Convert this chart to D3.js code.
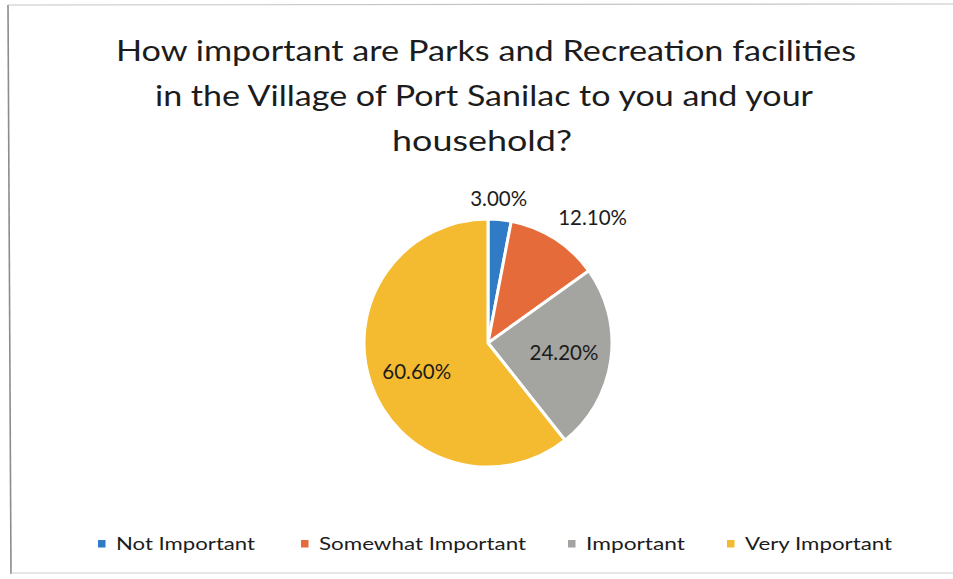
<!DOCTYPE html>
<html>
<head>
<meta charset="utf-8">
<script src="https://cdn.jsdelivr.net/npm/d3@7/dist/d3.min.js"></script>
<style>
  html, body { margin: 0; padding: 0; background: #fff; }
  svg { display: block; }
  text { font-family: Lato, "Open Sans", sans-serif; fill: #1c1c1c; }
</style>
</head>
<body>
<svg id="chart" width="953" height="579"></svg>
<script>
// Survey responses
const categories = ["Not Important", "Somewhat Important", "Important", "Very Important"];
const values = [3.0, 12.1, 24.2, 60.6];
const valueLabels = ["3.00%", "12.10%", "24.20%", "60.60%"];
const colors = ["#2f7bc6", "#e56c3a", "#a4a4a0", "#f5bb30"];
const titleLines = [
  "How important are Parks and Recreation facilities",
  "in the Village of Port Sanilac to you and your",
  "household?"
];

const W = 953, H = 579;
const svg = d3.select("#chart");

// chart frame
const frame = svg.append("g");
frame.append("line").attr("x1", 8).attr("y1", 5).attr("x2", 11).attr("y2", 574)
  .attr("stroke", "#8c8c8c").attr("stroke-width", 1.6);
frame.append("line").attr("x1", 8).attr("y1", 5).attr("x2", W).attr("y2", 4)
  .attr("stroke", "#c4c4c4").attr("stroke-width", 1.2);
frame.append("line").attr("x1", 11).attr("y1", 573).attr("x2", W).attr("y2", 573)
  .attr("stroke", "#cfcfcf").attr("stroke-width", 1.2);

// title
const titleWidths = [740, 658, 180];
const titleCx = [486, 484, 482];
svg.append("g").selectAll("text").data(titleLines).join("text")
  .attr("x", (d, i) => titleCx[i])
  .attr("y", (d, i) => 61 + i * 45)
  .attr("text-anchor", "middle")
  .attr("font-size", 29)
  .attr("textLength", (d, i) => titleWidths[i])
  .attr("lengthAdjust", "spacingAndGlyphs")
  .text(d => d);

// pie
const cx = 488, cy = 343, r = 124;
const pie = d3.pie().sort(null).value(d => d)(values);
const arc = d3.arc().innerRadius(0).outerRadius(r);
const g = svg.append("g").attr("transform", `translate(${cx},${cy})`);
g.selectAll("path").data(pie).join("path")
  .attr("d", arc)
  .attr("fill", (d, i) => colors[i])
  .attr("stroke", "#fff")
  .attr("stroke-width", 3)
  .attr("stroke-linejoin", "round");

// data labels: [radius factor, angle nudge in degrees]
const placement = [[1.168, -1.2], [1.32, 7.1], [0.617, -1.2], [0.62, -2.8]];
g.selectAll("text.lbl").data(pie).join("text")
  .attr("class", "lbl")
  .each(function (d, i) {
    const [f, nudge] = placement[i];
    const a = (d.startAngle + d.endAngle) / 2 + nudge * Math.PI / 180;
    d3.select(this)
      .attr("x", Math.sin(a) * r * f)
      .attr("y", -Math.cos(a) * r * f + 7.5);
  })
  .attr("text-anchor", "middle")
  .attr("font-size", 20.5)
  .text((d, i) => valueLabels[i]);

// legend
const legendX = [98, 301, 568, 727];
const legendW = [139, 207, 99, 147];
const lg = svg.append("g");
const items = lg.selectAll("g").data(categories).join("g")
  .attr("transform", (d, i) => `translate(${legendX[i]},0)`);
items.append("rect").attr("x", 0).attr("y", 540).attr("width", 7.5).attr("height", 7.5)
  .attr("fill", (d, i) => colors[i]);
items.append("text").attr("x", 18).attr("y", 550)
  .attr("font-size", 18)
  .attr("textLength", (d, i) => legendW[i])
  .attr("lengthAdjust", "spacingAndGlyphs")
  .text(d => d);
</script>
</body>
</html>
